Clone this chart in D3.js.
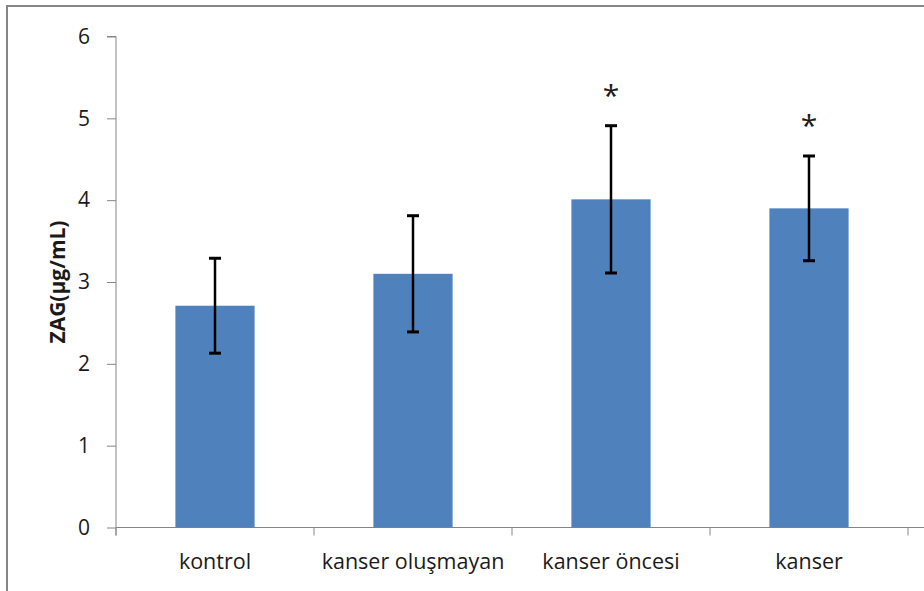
<!DOCTYPE html>
<html>
<head>
<meta charset="utf-8">
<script src="https://cdn.jsdelivr.net/npm/d3@7"></script>
<style>
  html, body { margin: 0; padding: 0; background: #fff; }
  svg { display: block; }
  text { font-family: "Open Sans", Lato, sans-serif; fill: #1a1a1a; }
</style>
</head>
<body>
<svg id="chart" width="924" height="591"></svg>
<script>
// ZAG concentration by group, mean ± SD
const categories = ["kontrol", "kanser oluşmayan", "kanser öncesi", "kanser"];
const means = [2.71, 3.10, 4.01, 3.90];
const errors = [0.58, 0.71, 0.90, 0.64];
const significant = [false, false, true, true];
const yTicks = [0, 1, 2, 3, 4, 5, 6];
const yTitle = "ZAG(µg/mL)";

const FONT = "'Open Sans', Lato, sans-serif";
const svg = d3.select("#chart");
const W = 924, H = 591;

// outer chart frame (extends past the right/bottom edges)
svg.append("rect")
  .attr("x", 7).attr("y", 6)
  .attr("width", W + 20).attr("height", H + 20)
  .attr("fill", "#fff")
  .attr("stroke", "#868686")
  .attr("stroke-width", 2);

const plotL = 116, plotR = 908, plotT = 36.5, plotB = 527.5;

const x = d3.scaleBand().domain(categories).range([plotL, plotR]).padding(0);
const y = d3.scaleLinear().domain([0, 6]).range([plotB, plotT]);
const barW = x.bandwidth() * 0.4;

// y axis
const yAxis = d3.axisLeft(y).tickValues(yTicks).tickSize(9).tickPadding(17).tickFormat(d3.format("d"));
const gy = svg.append("g").attr("transform", `translate(${plotL},0)`).call(yAxis);
gy.select(".domain").attr("stroke", "#868686").attr("d", `M-9,${plotT}H0V${plotB + 8}`);
gy.selectAll(".tick line").attr("stroke", "#868686");
gy.selectAll(".tick text").attr("font-size", 21).attr("fill", "#1a1a1a")
  .style("font-family", FONT);

// x axis line and category boundary ticks
const gx = svg.append("g");
gx.append("line")
  .attr("x1", plotL).attr("x2", W + 10)
  .attr("y1", plotB).attr("y2", plotB)
  .attr("stroke", "#868686");
const bounds = categories.map(c => x(c) + x.bandwidth()).concat([plotL]);
gx.selectAll("line.tk").data(bounds).join("line")
  .attr("class", "tk")
  .attr("x1", d => d).attr("x2", d => d)
  .attr("y1", plotB).attr("y2", plotB + 8)
  .attr("stroke", "#868686");
gx.selectAll("text.cat").data(categories).join("text")
  .attr("class", "cat")
  .attr("x", d => x(d) + x.bandwidth() / 2)
  .attr("y", 569)
  .attr("text-anchor", "middle")
  .attr("font-size", 21.5)
  .text(d => d);

// bars
const data = categories.map((c, i) => ({ c, m: means[i], e: errors[i], s: significant[i] }));
svg.selectAll("rect.bar").data(data).join("rect")
  .attr("class", "bar")
  .attr("x", d => x(d.c) + (x.bandwidth() - barW) / 2)
  .attr("y", d => y(d.m))
  .attr("width", barW)
  .attr("height", d => y(0) - y(d.m))
  .attr("fill", "#4F81BD");

// error bars
const eb = svg.selectAll("g.err").data(data).join("g").attr("class", "err")
  .attr("transform", d => `translate(${x(d.c) + x.bandwidth() / 2},0)`);
eb.append("line")
  .attr("y1", d => y(d.m + d.e)).attr("y2", d => y(d.m - d.e))
  .attr("stroke", "#000").attr("stroke-width", 2.5);
eb.append("line")
  .attr("x1", -6).attr("x2", 6)
  .attr("y1", d => y(d.m + d.e)).attr("y2", d => y(d.m + d.e))
  .attr("stroke", "#000").attr("stroke-width", 3);
eb.append("line")
  .attr("x1", -6).attr("x2", 6)
  .attr("y1", d => y(d.m - d.e)).attr("y2", d => y(d.m - d.e))
  .attr("stroke", "#000").attr("stroke-width", 3);

// significance markers
svg.selectAll("text.sig").data(data.filter(d => d.s)).join("text")
  .attr("class", "sig")
  .attr("x", d => x(d.c) + x.bandwidth() / 2)
  .attr("y", d => y(d.m + d.e) - 20)
  .attr("text-anchor", "middle")
  .attr("font-size", 30)
  .text("*");

// y axis title
svg.append("text")
  .attr("transform", `translate(65,${(plotT + plotB) / 2}) rotate(-90)`)
  .attr("text-anchor", "middle")
  .attr("font-size", 21)
  .attr("font-weight", "bold")
  .text(yTitle);
</script>
</body>
</html>
